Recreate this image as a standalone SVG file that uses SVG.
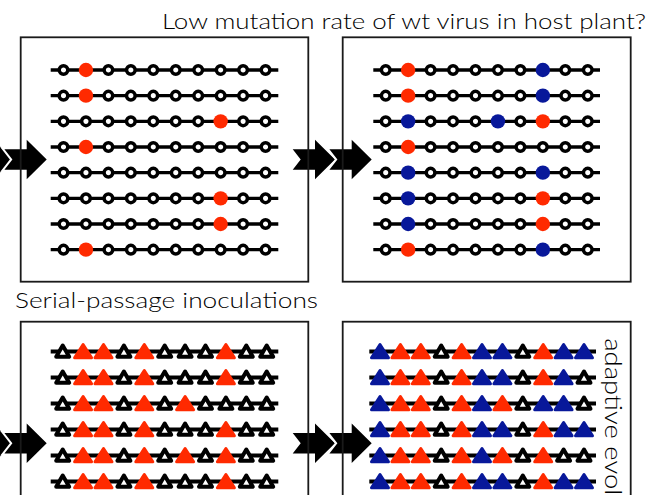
<svg xmlns="http://www.w3.org/2000/svg" xmlns:xlink="http://www.w3.org/1999/xlink" width="655" height="495" viewBox="0 0 655 495">
<style>
.box{fill:none;stroke:#1a1a1a;stroke-width:1.8}
.cl{stroke:#000;stroke-width:3.4}
.tl{stroke:#000;stroke-width:4}
.lbl{font-family:Lato,"Liberation Sans",sans-serif;font-weight:300;fill:#000}
.arr{fill:#000}
.arr2{fill:#000;stroke:#fff;stroke-width:4;paint-order:stroke;stroke-linejoin:miter}
</style>
<defs>
<circle id="oc" r="4.3" fill="#fff" stroke="#000" stroke-width="3.5"/>
<circle id="rc" r="7.2" fill="#ff2a00"/>
<circle id="bc" r="7.2" fill="#08189a"/>
<path id="ot" d="M0,-6 L6.5,5.2 L-6.5,5.2 Z" fill="#fff" stroke="#000" stroke-width="4" stroke-linejoin="round"/>
<path id="rt" d="M0,-7 L8.5,6.2 L-8.5,6.2 Z" fill="#ff2a00" stroke="#ff2a00" stroke-width="3" stroke-linejoin="round"/>
<path id="bt" d="M0,-7 L8.5,6.2 L-8.5,6.2 Z" fill="#08189a" stroke="#08189a" stroke-width="3" stroke-linejoin="round"/>
<path id="ar" d="M0,0 L-20,-19.7 L-20,-10.3 L-42.3,-10.3 L-34.3,0 L-42.3,10.3 L-20,10.3 L-20,19.7 Z"/>
</defs>

<text class="lbl" x="162" y="28.5" font-size="22" textLength="484" lengthAdjust="spacingAndGlyphs">Low mutation rate of wt virus in host plant?</text>
<text class="lbl" x="15" y="308.3" font-size="21.5" textLength="303" lengthAdjust="spacingAndGlyphs">Serial-passage inoculations</text>

<g id="connectors">
<use href="#ar" class="arr" x="13.3" y="159.5"/>
<use href="#ar" class="arr2" x="46.7" y="159.5"/>
<use href="#ar" class="arr" x="335" y="159.5"/>
<use href="#ar" class="arr2" x="371.7" y="159.5"/>
<use href="#ar" class="arr" x="13.3" y="443.3"/>
<use href="#ar" class="arr2" x="46.7" y="443.3"/>
<use href="#ar" class="arr" x="335" y="443.3"/>
<use href="#ar" class="arr2" x="371.7" y="443.3"/>
</g>

<g id="panel-top-left">
<rect class="box" x="20.7" y="37.3" width="287.6" height="244.4"/>
<g class="cl">
<line x1="50.7" y1="70" x2="278.3" y2="70"/>
<line x1="50.7" y1="95.67" x2="278.3" y2="95.67"/>
<line x1="50.7" y1="121.33" x2="278.3" y2="121.33"/>
<line x1="50.7" y1="147" x2="278.3" y2="147"/>
<line x1="50.7" y1="172.67" x2="278.3" y2="172.67"/>
<line x1="50.7" y1="198.33" x2="278.3" y2="198.33"/>
<line x1="50.7" y1="224" x2="278.3" y2="224"/>
<line x1="50.7" y1="249.67" x2="278.3" y2="249.67"/>
</g>
<g id="tl-row0" transform="translate(0,70)"><use href="#oc" x="63.5"/><use href="#rc" x="85.95"/><use href="#oc" x="108.4"/><use href="#oc" x="130.85"/><use href="#oc" x="153.3"/><use href="#oc" x="175.75"/><use href="#oc" x="198.2"/><use href="#oc" x="220.65"/><use href="#oc" x="243.1"/><use href="#oc" x="265.55"/></g>
<g id="tl-row1" transform="translate(0,95.67)"><use href="#oc" x="63.5"/><use href="#rc" x="85.95"/><use href="#oc" x="108.4"/><use href="#oc" x="130.85"/><use href="#oc" x="153.3"/><use href="#oc" x="175.75"/><use href="#oc" x="198.2"/><use href="#oc" x="220.65"/><use href="#oc" x="243.1"/><use href="#oc" x="265.55"/></g>
<g id="tl-row2" transform="translate(0,121.33)"><use href="#oc" x="63.5"/><use href="#oc" x="85.95"/><use href="#oc" x="108.4"/><use href="#oc" x="130.85"/><use href="#oc" x="153.3"/><use href="#oc" x="175.75"/><use href="#oc" x="198.2"/><use href="#rc" x="220.65"/><use href="#oc" x="243.1"/><use href="#oc" x="265.55"/></g>
<g id="tl-row3" transform="translate(0,147)"><use href="#oc" x="63.5"/><use href="#rc" x="85.95"/><use href="#oc" x="108.4"/><use href="#oc" x="130.85"/><use href="#oc" x="153.3"/><use href="#oc" x="175.75"/><use href="#oc" x="198.2"/><use href="#oc" x="220.65"/><use href="#oc" x="243.1"/><use href="#oc" x="265.55"/></g>
<g id="tl-row4" transform="translate(0,172.67)"><use href="#oc" x="63.5"/><use href="#oc" x="85.95"/><use href="#oc" x="108.4"/><use href="#oc" x="130.85"/><use href="#oc" x="153.3"/><use href="#oc" x="175.75"/><use href="#oc" x="198.2"/><use href="#oc" x="220.65"/><use href="#oc" x="243.1"/><use href="#oc" x="265.55"/></g>
<g id="tl-row5" transform="translate(0,198.33)"><use href="#oc" x="63.5"/><use href="#oc" x="85.95"/><use href="#oc" x="108.4"/><use href="#oc" x="130.85"/><use href="#oc" x="153.3"/><use href="#oc" x="175.75"/><use href="#oc" x="198.2"/><use href="#rc" x="220.65"/><use href="#oc" x="243.1"/><use href="#oc" x="265.55"/></g>
<g id="tl-row6" transform="translate(0,224)"><use href="#oc" x="63.5"/><use href="#oc" x="85.95"/><use href="#oc" x="108.4"/><use href="#oc" x="130.85"/><use href="#oc" x="153.3"/><use href="#oc" x="175.75"/><use href="#oc" x="198.2"/><use href="#rc" x="220.65"/><use href="#oc" x="243.1"/><use href="#oc" x="265.55"/></g>
<g id="tl-row7" transform="translate(0,249.67)"><use href="#oc" x="63.5"/><use href="#rc" x="85.95"/><use href="#oc" x="108.4"/><use href="#oc" x="130.85"/><use href="#oc" x="153.3"/><use href="#oc" x="175.75"/><use href="#oc" x="198.2"/><use href="#oc" x="220.65"/><use href="#oc" x="243.1"/><use href="#oc" x="265.55"/></g>
</g>

<g id="panel-top-right">
<rect class="box" x="342.7" y="37.3" width="288" height="244.4"/>
<g class="cl">
<line x1="373.3" y1="70" x2="600" y2="70"/>
<line x1="373.3" y1="95.67" x2="600" y2="95.67"/>
<line x1="373.3" y1="121.33" x2="600" y2="121.33"/>
<line x1="373.3" y1="147" x2="600" y2="147"/>
<line x1="373.3" y1="172.67" x2="600" y2="172.67"/>
<line x1="373.3" y1="198.33" x2="600" y2="198.33"/>
<line x1="373.3" y1="224" x2="600" y2="224"/>
<line x1="373.3" y1="249.67" x2="600" y2="249.67"/>
</g>
<g id="tr-row0" transform="translate(322.2,70)"><use href="#oc" x="63.5"/><use href="#rc" x="85.95"/><use href="#oc" x="108.4"/><use href="#oc" x="130.85"/><use href="#oc" x="153.3"/><use href="#oc" x="175.75"/><use href="#oc" x="198.2"/><use href="#bc" x="220.65"/><use href="#oc" x="243.1"/><use href="#oc" x="265.55"/></g>
<g id="tr-row1" transform="translate(322.2,95.67)"><use href="#oc" x="63.5"/><use href="#rc" x="85.95"/><use href="#oc" x="108.4"/><use href="#oc" x="130.85"/><use href="#oc" x="153.3"/><use href="#oc" x="175.75"/><use href="#oc" x="198.2"/><use href="#bc" x="220.65"/><use href="#oc" x="243.1"/><use href="#oc" x="265.55"/></g>
<g id="tr-row2" transform="translate(322.2,121.33)"><use href="#oc" x="63.5"/><use href="#bc" x="85.95"/><use href="#oc" x="108.4"/><use href="#oc" x="130.85"/><use href="#oc" x="153.3"/><use href="#bc" x="175.75"/><use href="#oc" x="198.2"/><use href="#rc" x="220.65"/><use href="#oc" x="243.1"/><use href="#oc" x="265.55"/></g>
<g id="tr-row3" transform="translate(322.2,147)"><use href="#oc" x="63.5"/><use href="#rc" x="85.95"/><use href="#oc" x="108.4"/><use href="#oc" x="130.85"/><use href="#oc" x="153.3"/><use href="#oc" x="175.75"/><use href="#oc" x="198.2"/><use href="#oc" x="220.65"/><use href="#oc" x="243.1"/><use href="#oc" x="265.55"/></g>
<g id="tr-row4" transform="translate(322.2,172.67)"><use href="#oc" x="63.5"/><use href="#bc" x="85.95"/><use href="#oc" x="108.4"/><use href="#oc" x="130.85"/><use href="#oc" x="153.3"/><use href="#oc" x="175.75"/><use href="#oc" x="198.2"/><use href="#bc" x="220.65"/><use href="#oc" x="243.1"/><use href="#oc" x="265.55"/></g>
<g id="tr-row5" transform="translate(322.2,198.33)"><use href="#oc" x="63.5"/><use href="#bc" x="85.95"/><use href="#oc" x="108.4"/><use href="#oc" x="130.85"/><use href="#oc" x="153.3"/><use href="#oc" x="175.75"/><use href="#oc" x="198.2"/><use href="#rc" x="220.65"/><use href="#oc" x="243.1"/><use href="#oc" x="265.55"/></g>
<g id="tr-row6" transform="translate(322.2,224)"><use href="#oc" x="63.5"/><use href="#bc" x="85.95"/><use href="#oc" x="108.4"/><use href="#oc" x="130.85"/><use href="#oc" x="153.3"/><use href="#oc" x="175.75"/><use href="#oc" x="198.2"/><use href="#rc" x="220.65"/><use href="#oc" x="243.1"/><use href="#oc" x="265.55"/></g>
<g id="tr-row7" transform="translate(322.2,249.67)"><use href="#oc" x="63.5"/><use href="#rc" x="85.95"/><use href="#oc" x="108.4"/><use href="#oc" x="130.85"/><use href="#oc" x="153.3"/><use href="#oc" x="175.75"/><use href="#oc" x="198.2"/><use href="#bc" x="220.65"/><use href="#oc" x="243.1"/><use href="#oc" x="265.55"/></g>
</g>

<g id="panel-bottom-left">
<rect class="box" x="20.7" y="321.7" width="287.6" height="200"/>
<g class="tl">
<line x1="50.7" y1="351.5" x2="278.3" y2="351.5"/>
<line x1="50.7" y1="377.5" x2="278.3" y2="377.5"/>
<line x1="50.7" y1="403.5" x2="278.3" y2="403.5"/>
<line x1="50.7" y1="429.5" x2="278.3" y2="429.5"/>
<line x1="50.7" y1="455.5" x2="278.3" y2="455.5"/>
<line x1="50.7" y1="481.5" x2="278.3" y2="481.5"/>
</g>
<g id="bl-row0" transform="translate(0,351.5)"><use href="#ot" x="62.7"/><use href="#rt" x="83.1"/><use href="#rt" x="103.5"/><use href="#ot" x="123.9"/><use href="#rt" x="144.3"/><use href="#ot" x="164.7"/><use href="#ot" x="185.1"/><use href="#ot" x="205.5"/><use href="#rt" x="225.9"/><use href="#ot" x="246.3"/><use href="#ot" x="266.7"/></g>
<g id="bl-row1" transform="translate(0,377.5)"><use href="#ot" x="62.7"/><use href="#rt" x="83.1"/><use href="#rt" x="103.5"/><use href="#ot" x="123.9"/><use href="#rt" x="144.3"/><use href="#ot" x="164.7"/><use href="#ot" x="185.1"/><use href="#ot" x="205.5"/><use href="#rt" x="225.9"/><use href="#ot" x="246.3"/><use href="#ot" x="266.7"/></g>
<g id="bl-row2" transform="translate(0,403.5)"><use href="#ot" x="62.7"/><use href="#rt" x="83.1"/><use href="#rt" x="103.5"/><use href="#ot" x="123.9"/><use href="#rt" x="144.3"/><use href="#ot" x="164.7"/><use href="#rt" x="185.1"/><use href="#ot" x="205.5"/><use href="#ot" x="225.9"/><use href="#ot" x="246.3"/><use href="#ot" x="266.7"/></g>
<g id="bl-row3" transform="translate(0,429.5)"><use href="#ot" x="62.7"/><use href="#rt" x="83.1"/><use href="#rt" x="103.5"/><use href="#ot" x="123.9"/><use href="#rt" x="144.3"/><use href="#ot" x="164.7"/><use href="#ot" x="185.1"/><use href="#ot" x="205.5"/><use href="#rt" x="225.9"/><use href="#ot" x="246.3"/><use href="#ot" x="266.7"/></g>
<g id="bl-row4" transform="translate(0,455.5)"><use href="#ot" x="62.7"/><use href="#rt" x="83.1"/><use href="#rt" x="103.5"/><use href="#ot" x="123.9"/><use href="#rt" x="144.3"/><use href="#ot" x="164.7"/><use href="#rt" x="185.1"/><use href="#ot" x="205.5"/><use href="#rt" x="225.9"/><use href="#ot" x="246.3"/><use href="#ot" x="266.7"/></g>
<g id="bl-row5" transform="translate(0,481.5)"><use href="#ot" x="62.7"/><use href="#rt" x="83.1"/><use href="#rt" x="103.5"/><use href="#ot" x="123.9"/><use href="#rt" x="144.3"/><use href="#ot" x="164.7"/><use href="#ot" x="185.1"/><use href="#ot" x="205.5"/><use href="#rt" x="225.9"/><use href="#ot" x="246.3"/><use href="#ot" x="266.7"/></g>
</g>

<g id="panel-bottom-right">
<rect class="box" x="342.7" y="321.7" width="288" height="200"/>
<g class="tl">
<line x1="369.3" y1="351.5" x2="596" y2="351.5"/>
<line x1="369.3" y1="377.5" x2="596" y2="377.5"/>
<line x1="369.3" y1="403.5" x2="596" y2="403.5"/>
<line x1="369.3" y1="429.5" x2="596" y2="429.5"/>
<line x1="369.3" y1="455.5" x2="596" y2="455.5"/>
<line x1="369.3" y1="481.5" x2="596" y2="481.5"/>
</g>
<g id="br-row0" transform="translate(317.3,351.5)"><use href="#bt" x="62.7"/><use href="#rt" x="83.1"/><use href="#rt" x="103.5"/><use href="#ot" x="123.9"/><use href="#rt" x="144.3"/><use href="#bt" x="164.7"/><use href="#bt" x="185.1"/><use href="#ot" x="205.5"/><use href="#rt" x="225.9"/><use href="#bt" x="246.3"/><use href="#bt" x="266.7"/></g>
<g id="br-row1" transform="translate(317.3,377.5)"><use href="#bt" x="62.7"/><use href="#rt" x="83.1"/><use href="#rt" x="103.5"/><use href="#ot" x="123.9"/><use href="#rt" x="144.3"/><use href="#bt" x="164.7"/><use href="#bt" x="185.1"/><use href="#ot" x="205.5"/><use href="#rt" x="225.9"/><use href="#bt" x="246.3"/><use href="#ot" x="266.7"/></g>
<g id="br-row2" transform="translate(317.3,403.5)"><use href="#bt" x="62.7"/><use href="#rt" x="83.1"/><use href="#rt" x="103.5"/><use href="#ot" x="123.9"/><use href="#rt" x="144.3"/><use href="#bt" x="164.7"/><use href="#rt" x="185.1"/><use href="#ot" x="205.5"/><use href="#bt" x="225.9"/><use href="#bt" x="246.3"/><use href="#ot" x="266.7"/></g>
<g id="br-row3" transform="translate(317.3,429.5)"><use href="#bt" x="62.7"/><use href="#rt" x="83.1"/><use href="#rt" x="103.5"/><use href="#ot" x="123.9"/><use href="#rt" x="144.3"/><use href="#bt" x="164.7"/><use href="#bt" x="185.1"/><use href="#ot" x="205.5"/><use href="#rt" x="225.9"/><use href="#bt" x="246.3"/><use href="#bt" x="266.7"/></g>
<g id="br-row4" transform="translate(317.3,455.5)"><use href="#bt" x="62.7"/><use href="#rt" x="83.1"/><use href="#rt" x="103.5"/><use href="#ot" x="123.9"/><use href="#rt" x="144.3"/><use href="#bt" x="164.7"/><use href="#rt" x="185.1"/><use href="#ot" x="205.5"/><use href="#rt" x="225.9"/><use href="#ot" x="246.3"/><use href="#ot" x="266.7"/></g>
<g id="br-row5" transform="translate(317.3,481.5)"><use href="#bt" x="62.7"/><use href="#rt" x="83.1"/><use href="#rt" x="103.5"/><use href="#ot" x="123.9"/><use href="#rt" x="144.3"/><use href="#bt" x="164.7"/><use href="#bt" x="185.1"/><use href="#ot" x="205.5"/><use href="#rt" x="225.9"/><use href="#bt" x="246.3"/><use href="#bt" x="266.7"/></g>
<text class="lbl" transform="translate(604.5,338.3) rotate(90)" font-size="23" textLength="157" lengthAdjust="spacingAndGlyphs">adaptive evol</text>
</g>
</svg>
